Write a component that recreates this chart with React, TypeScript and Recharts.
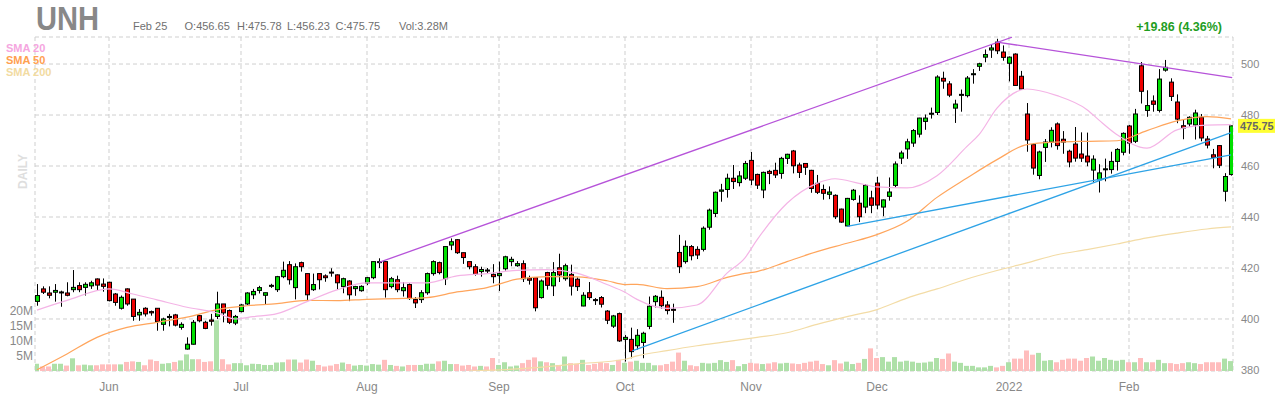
import React from 'react';
import { ComposedChart, Bar, Line, XAxis, YAxis, CartesianGrid, ReferenceLine, Cell } from 'recharts';

const FONT = '"Liberation Sans", Arial, Helvetica, sans-serif';
const UP = '#00e000';
const DOWN = '#ee0000';
const VOL_UP = '#aee0a8';
const VOL_DOWN = '#ffbdbd';

// daily candles, index 0 = mid May 2021, index 199 = Feb 25 2022
const OPEN = [
  406.9, 411.8, 410.2, 410.5, 410.5, 410.2, 411.5, 413.1, 412.4, 413.0,
  415.7, 413.7, 414.4, 409.8, 404.2, 411.8, 407.8, 401.6, 404.2, 402.9,
  404.2, 397.9, 400.6, 401.6, 396.7, 388.2, 390.1, 401.3, 398.7, 399.6,
  401.0, 405.9, 403.3, 398.4, 402.9, 405.9, 409.5, 411.2, 409.3, 413.0,
  411.5, 416.6, 421.3, 412.3, 422.1, 417.8, 411.5, 417.8, 416.9, 418.4,
  417.3, 412.7, 414.9, 411.9, 411.1, 414.1, 416.2, 422.3, 422.5, 412.7,
  415.4, 411.1, 413.5, 407.6, 407.6, 410.3, 417.8, 422.1, 415.8, 429.0,
  431.1, 426.0, 422.5, 420.5, 418.6, 419.2, 417.5, 417.0, 419.7, 422.5,
  420.9, 421.7, 416.0, 416.2, 408.4, 418.2, 413.0, 420.1, 415.8, 417.5,
  415.6, 405.1, 410.3, 407.6, 408.4, 403.1, 397.2, 402.1, 392.0, 392.0,
  389.5, 390.8, 397.1, 406.8, 408.5, 405.5, 403.8, 426.1, 422.5, 428.4,
  427.3, 427.3, 436.0, 441.4, 450.1, 450.8, 455.2, 453.5, 455.2, 462.2,
  456.7, 450.6, 457.9, 458.3, 457.1, 463.0, 465.9, 460.4, 461.0, 458.3,
  453.2, 450.8, 448.9, 448.5, 443.1, 436.5, 446.9, 445.4, 443.9, 447.5,
  453.3, 443.9, 448.1, 452.4, 463.1, 466.7, 469.0, 472.5, 477.5, 480.3,
  481.0, 494.4, 492.2, 482.7, 487.8, 487.6, 495.8, 499.1, 502.7, 505.5,
  508.6, 504.7, 500.3, 503.9, 495.2, 480.4, 468.4, 456.3, 467.3, 469.4,
  476.5, 470.5, 465.8, 468.6, 464.7, 463.9, 458.4, 454.6, 458.8, 458.6,
  461.8, 465.4, 475.7, 469.7, 499.3, 481.8, 485.5, 481.8, 497.6, 492.9,
  485.1, 475.8, 476.5, 476.1, 479.1, 470.6, 464.4, 468.0, 450.1, 456.65,
];
const HIGH = [
  413.7, 412.8, 412.8, 413.7, 411.1, 414.4, 419.2, 414.4, 414.4, 415.0,
  415.9, 415.9, 414.6, 410.2, 409.2, 412.0, 407.8, 403.9, 404.6, 403.3,
  404.2, 400.5, 402.0, 402.0, 398.7, 392.8, 399.6, 401.6, 399.3, 402.0,
  410.7, 405.9, 403.7, 401.6, 405.9, 410.5, 411.8, 413.0, 410.3, 413.8,
  416.9, 422.5, 422.7, 421.8, 422.5, 417.8, 417.8, 417.8, 417.5, 419.9,
  417.5, 416.2, 415.2, 413.0, 413.2, 416.5, 422.5, 423.8, 422.5, 416.5,
  417.0, 414.5, 414.0, 408.6, 411.3, 418.2, 423.0, 422.5, 428.4, 431.6,
  431.3, 426.0, 422.5, 421.5, 420.5, 420.0, 421.5, 422.5, 424.8, 424.4,
  422.7, 423.0, 417.0, 416.2, 415.5, 418.5, 422.3, 425.6, 421.7, 421.3,
  416.3, 410.5, 414.5, 408.2, 409.0, 403.5, 401.6, 402.5, 393.7, 396.6,
  396.0, 395.0, 408.8, 409.4, 411.2, 407.0, 406.0, 433.0, 430.8, 429.0,
  428.5, 436.3, 443.3, 450.0, 453.0, 457.0, 460.4, 458.0, 462.0, 465.5,
  457.0, 457.8, 458.5, 461.3, 463.6, 464.8, 466.3, 461.3, 461.0, 458.5,
  456.5, 452.7, 452.0, 448.9, 443.3, 447.5, 451.0, 448.5, 452.9, 450.3,
  455.8, 446.9, 455.5, 461.8, 466.0, 470.7, 474.5, 478.9, 480.2, 482.9,
  495.6, 497.0, 493.3, 486.0, 490.0, 495.3, 498.0, 500.5, 505.7, 507.6,
  509.9, 507.3, 503.0, 504.2, 497.3, 484.7, 469.0, 466.0, 470.6, 475.2,
  477.1, 473.7, 466.4, 475.3, 473.2, 473.1, 464.2, 460.7, 462.9, 465.6,
  467.0, 473.2, 476.1, 482.4, 500.8, 489.7, 487.7, 498.0, 501.6, 494.4,
  488.1, 478.4, 479.5, 482.1, 480.4, 471.8, 466.7, 468.2, 457.2, 475.78,
];
const LOW = [
  405.2, 409.8, 408.1, 406.8, 404.8, 408.9, 410.5, 410.5, 409.2, 411.8,
  411.1, 410.7, 406.9, 405.2, 403.7, 405.2, 399.3, 399.3, 401.0, 401.3,
  395.4, 395.4, 397.1, 397.1, 395.8, 388.0, 390.0, 398.7, 396.0, 397.4,
  400.0, 398.7, 398.0, 397.6, 402.6, 405.5, 407.8, 410.0, 405.8, 412.2,
  410.6, 416.0, 413.5, 407.7, 418.6, 407.0, 411.0, 411.6, 414.6, 416.6,
  411.5, 410.1, 407.0, 409.1, 410.7, 413.3, 415.6, 420.0, 408.4, 412.0,
  410.5, 408.8, 407.5, 404.3, 406.3, 409.5, 417.0, 417.5, 413.3, 427.0,
  425.5, 421.6, 419.5, 417.0, 416.6, 418.0, 414.0, 411.0, 419.0, 420.7,
  420.5, 414.5, 413.5, 403.0, 408.0, 411.5, 409.0, 414.5, 415.0, 409.2,
  411.0, 405.0, 407.5, 405.5, 404.5, 398.0, 396.5, 391.0, 383.3, 384.6,
  388.0, 384.6, 396.0, 404.5, 404.0, 401.8, 398.5, 418.0, 421.7, 423.0,
  423.5, 426.5, 435.0, 440.0, 446.0, 447.6, 451.0, 452.0, 454.5, 452.5,
  451.0, 447.4, 452.9, 455.3, 455.0, 460.8, 457.1, 455.3, 456.5, 449.5,
  449.0, 446.8, 447.0, 439.2, 437.7, 436.2, 446.4, 438.0, 441.5, 441.5,
  443.0, 440.3, 446.4, 451.5, 460.8, 462.8, 467.5, 471.2, 474.2, 478.6,
  480.0, 490.3, 487.0, 476.9, 481.3, 486.9, 492.3, 497.3, 500.7, 502.4,
  503.9, 501.3, 493.2, 491.5, 490.0, 465.6, 456.6, 454.8, 461.6, 467.3,
  466.4, 464.8, 459.5, 461.7, 461.6, 459.9, 453.8, 449.6, 454.0, 457.0,
  458.2, 464.2, 464.8, 469.0, 484.5, 479.3, 481.3, 481.0, 497.0, 485.5,
  476.8, 470.5, 475.4, 470.4, 469.7, 466.9, 459.1, 459.2, 446.1, 456.23,
];
const CLOSE = [
  409.2, 410.5, 409.3, 411.2, 410.6, 409.3, 412.4, 411.5, 413.6, 414.2,
  413.3, 412.8, 407.2, 406.5, 408.5, 405.9, 401.0, 402.6, 402.0, 402.4,
  399.0, 400.0, 401.0, 397.6, 397.9, 390.1, 398.7, 399.3, 396.3, 399.1,
  405.9, 402.4, 398.7, 401.0, 405.5, 410.2, 410.8, 412.3, 410.3, 413.2,
  416.6, 419.1, 415.4, 420.5, 420.5, 409.5, 413.5, 415.4, 416.2, 418.0,
  414.2, 415.8, 409.5, 412.7, 412.8, 416.2, 422.5, 422.5, 411.5, 415.8,
  411.5, 412.3, 408.0, 406.3, 410.3, 417.8, 422.5, 418.2, 428.4, 430.3,
  426.0, 424.1, 420.5, 417.5, 419.4, 418.8, 416.6, 417.8, 424.4, 423.4,
  421.7, 415.8, 415.2, 404.4, 414.9, 413.2, 418.2, 417.3, 420.9, 412.9,
  412.7, 409.3, 408.4, 407.3, 405.8, 399.5, 401.2, 391.4, 392.8, 387.2,
  393.6, 394.4, 405.0, 408.9, 405.2, 403.3, 403.4, 420.5, 428.5, 424.8,
  425.1, 435.6, 442.7, 449.7, 450.6, 455.2, 453.9, 456.1, 461.0, 454.5,
  452.5, 457.5, 457.1, 456.5, 463.0, 464.6, 460.1, 457.5, 459.5, 451.2,
  449.7, 449.3, 449.8, 440.1, 438.0, 447.3, 450.5, 440.1, 452.4, 444.6,
  444.7, 446.7, 449.8, 460.8, 465.1, 469.5, 473.9, 478.8, 478.8, 480.7,
  494.9, 493.3, 487.8, 484.3, 488.1, 494.5, 496.2, 500.1, 503.7, 506.3,
  505.2, 502.6, 502.7, 491.6, 490.2, 470.2, 459.2, 465.5, 469.4, 474.0,
  468.0, 469.4, 461.6, 463.1, 463.1, 461.6, 462.7, 457.3, 458.9, 461.8,
  466.5, 472.8, 469.0, 480.4, 489.3, 483.7, 484.2, 494.1, 498.7, 487.3,
  478.4, 474.9, 479.1, 480.8, 471.0, 468.2, 463.4, 460.3, 455.89, 475.75,
];
// volume in millions
const VOLUME = [
  2.4, 1.5, 1.5, 2.4, 2.4, 1.8, 4.2, 1.9, 2.1, 1.9,
  1.9, 2.2, 2.2, 2.2, 2.2, 3.0, 3.2, 3.0, 1.9, 3.8,
  3.3, 2.4, 2.6, 3.0, 3.5, 5.5, 3.9, 3.9, 3.0, 3.2,
  16.8, 3.9, 2.2, 2.6, 2.6, 1.9, 2.4, 2.3, 2.0, 2.0,
  2.8, 2.9, 3.8, 3.8, 2.8, 3.8, 3.4, 2.0, 1.5, 1.8,
  2.3, 2.8, 2.3, 1.8, 2.0, 1.8, 2.3, 2.1, 3.7, 2.0,
  1.7, 1.5, 2.0, 2.0, 2.0, 2.4, 2.4, 3.2, 3.4, 2.3,
  2.3, 1.8, 2.0, 1.5, 1.7, 1.5, 4.3, 2.0, 2.9, 1.5,
  1.8, 2.6, 3.7, 4.5, 3.2, 2.9, 2.6, 2.0, 4.8, 2.6,
  2.4, 3.7, 2.0, 2.4, 2.9, 2.6, 2.0, 3.7, 2.7, 3.1,
  3.4, 2.7, 2.7, 1.9, 1.9, 2.3, 3.1, 6.1, 3.4, 1.9,
  1.6, 2.7, 2.5, 2.7, 3.6, 3.0, 3.6, 1.6, 2.3, 2.7,
  2.5, 2.3, 2.5, 2.9, 2.5, 2.7, 2.5, 2.3, 2.7, 3.1,
  3.4, 2.3, 1.9, 3.6, 2.5, 3.1, 2.3, 2.7, 4.0, 7.5,
  4.3, 4.6, 3.1, 4.6, 3.1, 3.4, 3.1, 2.7, 2.8, 3.1,
  4.3, 4.0, 5.8, 3.1, 2.7, 1.7, 1.7, 1.2, 1.2, 1.7,
  1.2, 1.7, 2.9, 4.1, 4.1, 6.8, 5.4, 6.0, 3.4, 3.6,
  2.9, 3.7, 4.1, 4.1, 3.4, 4.3, 4.8, 3.4, 4.3, 3.7,
  3.4, 3.7, 2.9, 2.9, 4.3, 2.9, 2.9, 3.7, 2.6, 2.6,
  2.3, 2.6, 2.9, 2.6, 2.3, 2.9, 2.9, 2.9, 4.1, 3.28,
];

// first trading day of each month (candle index)
const MONTH_TICKS = [12, 34, 55, 77, 98, 119, 140, 162, 182];
const MONTH_LABELS = ['Jun', 'Jul', 'Aug', 'Sep', 'Oct', 'Nov', 'Dec', '2022', 'Feb'];
const PRICE_TICKS = [380, 400, 420, 440, 460, 480, 500];
const VOL_TICKS = [5, 10, 15, 20];

// moving averages: [candle index, value]
const SMA20: [number, number][] = [
  [0, 403.5], [5, 407.3], [12, 411.8], [16, 409.8], [20, 407.5], [25, 404.6], [30, 402.4],
  [33, 400.0], [36, 400.9], [40, 402.1], [45, 406.8], [50, 411.4], [55, 414.2], [60, 414.2],
  [65, 414.2], [70, 416.9], [75, 417.8], [80, 419.1], [85, 419.4], [90, 418.0], [95, 413.5],
  [98, 410.5], [100, 407.7], [105, 404.2], [110, 405.5], [115, 418.0], [118, 424.0],
  [120, 431.0], [125, 445.4], [130, 453.2], [133, 455.0], [137, 453.2], [140, 451.8],
  [145, 451.4], [150, 456.2], [155, 467.7], [157, 472.3], [160, 482.7], [165, 490.2],
  [170, 487.6], [175, 482.1], [177, 478.0], [180, 472.3], [185, 467.0], [190, 474.2],
  [195, 476.0], [199, 476.2],
];
const SMA50: [number, number][] = [
  [0, 380.1], [5, 386.3], [10, 392.8], [15, 396.7], [20, 398.7], [25, 400.7], [30, 403.7],
  [35, 405.2], [40, 406.0], [45, 407.3], [50, 407.2], [55, 407.7], [60, 408.0], [65, 408.4],
  [70, 410.6], [75, 412.3], [80, 415.6], [85, 416.6], [90, 416.5], [95, 415.0], [98, 413.5],
  [100, 413.6], [105, 411.9], [110, 412.7], [115, 416.3], [118, 417.9], [120, 418.6],
  [125, 422.5], [130, 426.4], [135, 429.7], [140, 433.1], [145, 438.3], [150, 447.7],
  [155, 455.3], [160, 462.5], [165, 468.4], [170, 469.4], [175, 469.7], [180, 469.9],
  [185, 473.9], [190, 477.7], [195, 479.4], [199, 478.5],
];
const SMA200: [number, number][] = [
  [72, 379.6], [80, 380.4], [90, 382.4], [98, 384.2], [100, 385.5], [105, 387.6],
  [110, 389.5], [115, 391.1], [120, 392.8], [125, 394.6], [130, 397.9], [135, 400.9],
  [140, 403.7], [145, 408.2], [150, 411.8], [155, 415.7], [160, 419.0], [165, 422.0],
  [170, 425.2], [175, 427.2], [180, 429.4], [185, 431.8], [190, 433.7], [195, 435.3],
  [199, 436.1],
];

// drawn trendlines: [candle index, price]
const PURPLE_UP: [number, number][] = [[57, 422.2], [162.5, 510.5]];
const PURPLE_DOWN: [number, number][] = [[160, 508.6], [199.2, 494.7]];
const BLUE_LONG: [number, number][] = [[99.2, 387.5], [199, 473.1]];
const BLUE_SHORT: [number, number][] = [[135, 436.3], [199, 464.4]];

const rows = OPEN.map((o, i) => ({
  i,
  o,
  c: CLOSE[i],
  range: [LOW[i], HIGH[i]],
  vol: VOLUME[i],
}));

const pts = (arr: [number, number][]) => arr.map(([i, v]) => ({ i, v }));

const last = rows.length - 1;
const change = CLOSE[last] - CLOSE[last - 1];
const changePct = (change / CLOSE[last - 1]) * 100;

function Candle(props: any) {
  const { x, y, width, height, payload } = props;
  if (!payload || height == null) return null;
  const [lo, hi] = payload.range;
  const k = height / (hi - lo);
  const py = (v: number) => y + (hi - v) * k;
  const cx = Math.round(x + width / 2);
  const up = payload.c >= payload.o;
  const top = py(Math.max(payload.o, payload.c));
  const bottom = py(Math.min(payload.o, payload.c));
  return (
    <g>
      <line x1={cx + 0.5} x2={cx + 0.5} y1={y} y2={y + height} stroke="#000" strokeWidth={1} />
      <rect
        x={cx - 1.5}
        y={top}
        width={4}
        height={Math.max(bottom - top, 1)}
        fill={up ? UP : DOWN}
        stroke="#000"
        strokeWidth={1}
      />
    </g>
  );
}

function PriceTag(props: any) {
  const { viewBox } = props;
  if (!viewBox) return null;
  const x = viewBox.x + viewBox.width + 5;
  const y = viewBox.y;
  return (
    <g>
      <rect x={x} y={y - 7} width={37} height={14} fill="#ffff33" />
      <text x={x + 2} y={y + 4} fontSize={11} fontWeight="bold" fill="#666">
        {CLOSE[last].toFixed(2)}
      </text>
    </g>
  );
}

export default function App() {
  return (
    <div style={{ position: 'absolute', left: 0, top: 0, width: 1280, height: 400, fontFamily: FONT, background: '#fff' }}>
      <ComposedChart width={1280} height={400} data={rows} margin={{ top: 37, right: 0, bottom: 0, left: 0 }}>
        <CartesianGrid xAxisId="c" yAxisId="p" stroke="#cfcfcf" strokeDasharray="4 3" />
        <XAxis
          xAxisId="c"
          dataKey="i"
          type="number"
          domain={[-1 / 3, last + 1 / 3]}
          allowDataOverflow
          ticks={MONTH_TICKS}
          interval={0}
          tickFormatter={(v: number) => MONTH_LABELS[MONTH_TICKS.indexOf(v)] ?? ''}
          axisLine={false}
          tickLine={false}
          tickSize={6}
          tickMargin={5}
          height={29}
          tick={{ fontSize: 12, fill: '#888' }}
        />
        <XAxis xAxisId="v" dataKey="i" type="number" domain={[-1 / 3, last + 1 / 3]} allowDataOverflow hide />
        <YAxis
          yAxisId="p"
          orientation="right"
          domain={[379.6, 510.6]}
          allowDataOverflow
          ticks={PRICE_TICKS}
          interval={0}
          width={47}
          axisLine={false}
          tickLine={false}
          tick={{ fontSize: 11, fill: '#888' }}
        />
        <YAxis
          yAxisId="v"
          orientation="left"
          domain={[0, 110.6]}
          allowDataOverflow
          ticks={VOL_TICKS}
          interval={0}
          width={35}
          axisLine={false}
          tickLine={false}
          tickSize={0}
          tickMargin={2}
          tickFormatter={(v: number) => `${v}M`}
          tick={{ fontSize: 12, fill: '#888' }}
        />
        <Bar xAxisId="v" yAxisId="v" dataKey="vol" barSize={5} isAnimationActive={false}>
          {rows.map((r) => (
            <Cell key={r.i} fill={r.c >= r.o ? VOL_UP : VOL_DOWN} />
          ))}
        </Bar>
        <Line xAxisId="c" yAxisId="p" data={pts(SMA200)} dataKey="v" type="monotone" stroke="#f3dca6" strokeWidth={1.2} dot={false} isAnimationActive={false} />
        <Line xAxisId="c" yAxisId="p" data={pts(SMA50)} dataKey="v" type="monotone" stroke="#ffa55c" strokeWidth={1.2} dot={false} isAnimationActive={false} />
        <Line xAxisId="c" yAxisId="p" data={pts(SMA20)} dataKey="v" type="monotone" stroke="#f4b4e6" strokeWidth={1.2} dot={false} isAnimationActive={false} />
        <Bar xAxisId="c" yAxisId="p" dataKey="range" barSize={5} shape={<Candle />} isAnimationActive={false} />
        <Line xAxisId="c" yAxisId="p" data={pts(PURPLE_UP)} dataKey="v" type="linear" stroke="#b653d9" strokeWidth={1.3} dot={false} isAnimationActive={false} />
        <Line xAxisId="c" yAxisId="p" data={pts(PURPLE_DOWN)} dataKey="v" type="linear" stroke="#b653d9" strokeWidth={1.3} dot={false} isAnimationActive={false} />
        <Line xAxisId="c" yAxisId="p" data={pts(BLUE_LONG)} dataKey="v" type="linear" stroke="#2ea3e6" strokeWidth={1.3} dot={false} isAnimationActive={false} />
        <Line xAxisId="c" yAxisId="p" data={pts(BLUE_SHORT)} dataKey="v" type="linear" stroke="#2ea3e6" strokeWidth={1.3} dot={false} isAnimationActive={false} />
        <ReferenceLine xAxisId="c" yAxisId="p" y={CLOSE[last]} stroke="none" ifOverflow="visible" label={<PriceTag />} />
      </ComposedChart>
      <svg width={1280} height={400} style={{ position: 'absolute', left: 0, top: 0, pointerEvents: 'none' }}>
        <text x={36} y={30} fontSize={33} fontWeight="bold" fill="#888" textLength={63} lengthAdjust="spacingAndGlyphs">
          UNH
        </text>
        <g fontSize={11} fill="#707070">
          <text x={133} y={30}>Feb 25</text>
          <text x={184.5} y={30}>O:{OPEN[last].toFixed(2)}</text>
          <text x={237} y={30}>H:{HIGH[last].toFixed(2)}</text>
          <text x={287} y={30}>L:{LOW[last].toFixed(2)}</text>
          <text x={335.5} y={30}>C:{CLOSE[last].toFixed(2)}</text>
          <text x={399} y={30}>Vol:{VOLUME[last].toFixed(2)}M</text>
        </g>
        <text x={1222} y={31} textAnchor="end" fontSize={12.5} fontWeight="bold" fill="#1f9e1f">
          {`+${change.toFixed(2)} (${changePct.toFixed(2)}%)`}
        </text>
        <g fontSize={11} fontWeight="bold">
          <text x={6} y={52} fill="#f5a6e0">SMA 20</text>
          <text x={6} y={64} fill="#ffa050">SMA 50</text>
          <text x={6} y={76} fill="#f2dba2">SMA 200</text>
        </g>
        <text
          x={22.5}
          y={171.5}
          transform="rotate(-90 22.5 171.5)"
          textAnchor="middle"
          dominantBaseline="central"
          fontSize={12}
          fontWeight="bold"
          fill="#dedede"
        >
          DAILY
        </text>
      </svg>
    </div>
  );
}
